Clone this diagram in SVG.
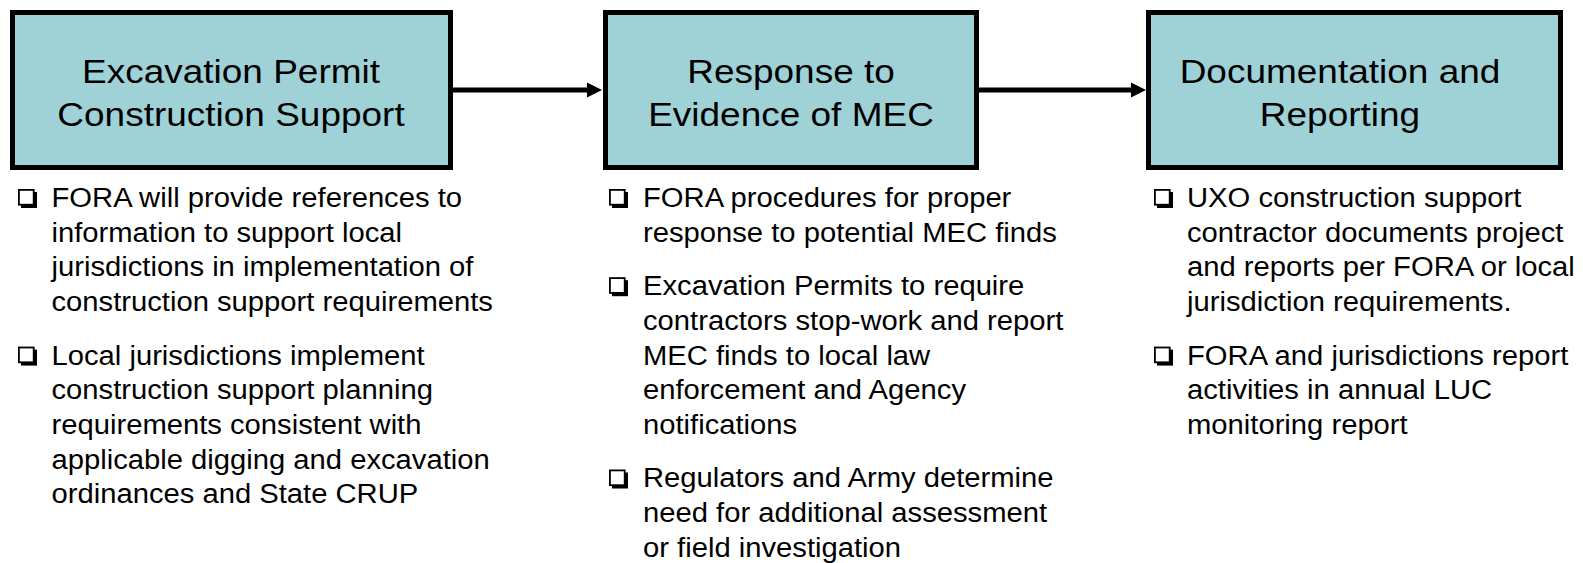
<svg xmlns="http://www.w3.org/2000/svg" xmlns:xlink="http://www.w3.org/1999/xlink" width="1583" height="563" viewBox="0 0 1583 563">
<style>
.box{fill:#9FD2D7;stroke:#000;stroke-width:5}
.title{font-family:"Liberation Sans",Arial,sans-serif;font-size:34px;fill:#000;text-anchor:middle}
.bul{font-family:"Liberation Sans",Arial,sans-serif;font-size:26.8px;fill:#000}
.conn{stroke:#000;stroke-width:5;fill:none}
</style>
<defs>
<marker id="ah" markerUnits="userSpaceOnUse" markerWidth="16" markerHeight="16" refX="0" refY="7.5" orient="auto" overflow="visible">
<path d="M0,0 L15,7.5 L0,15 z" fill="#000"/>
</marker>
<g id="cb">
<rect x="3" y="3" width="16" height="16" fill="#000"/>
<rect x="0.9" y="0.9" width="14.8" height="14.8" fill="#fff" stroke="#000" stroke-width="1.8"/>
</g>
</defs>
<rect width="1583" height="563" fill="#fff"/>

<g id="connectors">
<line class="conn" x1="452" y1="90" x2="587" y2="90" marker-end="url(#ah)"/>
<line class="conn" x1="979" y1="90" x2="1131" y2="90" marker-end="url(#ah)"/>
</g>

<g id="node-excavation">
<rect class="box" x="12.5" y="12.5" width="438" height="155"/>
<text class="title" transform="translate(231 0) scale(1.088 1)"><tspan x="0" y="83">Excavation Permit</tspan><tspan x="0" y="126">Construction Support</tspan></text>
</g>

<g id="node-response">
<rect class="box" x="605.5" y="12.5" width="371" height="155"/>
<text class="title" transform="translate(791 0) scale(1.088 1)"><tspan x="0" y="83">Response to</tspan><tspan x="0" y="126">Evidence of MEC</tspan></text>
</g>

<g id="node-documentation">
<rect class="box" x="1148.5" y="12.5" width="412" height="155"/>
<text class="title" transform="translate(1340 0) scale(1.088 1)"><tspan x="0" y="83">Documentation and</tspan><tspan x="0" y="126">Reporting</tspan></text>
</g>

<g id="bullets-excavation">
<use xlink:href="#cb" x="18" y="189"/>
<use xlink:href="#cb" x="18" y="346.6"/>
<text class="bul" transform="translate(51.5 0) scale(1.09 1)">
<tspan x="0" y="207">FORA will provide references to</tspan>
<tspan x="0" y="241.7">information to support local</tspan>
<tspan x="0" y="276.4">jurisdictions in implementation of</tspan>
<tspan x="0" y="311.1">construction support requirements</tspan>
<tspan x="0" y="364.6">Local jurisdictions implement</tspan>
<tspan x="0" y="399.3">construction support planning</tspan>
<tspan x="0" y="434">requirements consistent with</tspan>
<tspan x="0" y="468.7">applicable digging and excavation</tspan>
<tspan x="0" y="503.4">ordinances and State CRUP</tspan>
</text>
</g>

<g id="bullets-response">
<use xlink:href="#cb" x="609" y="189"/>
<use xlink:href="#cb" x="609" y="277.2"/>
<use xlink:href="#cb" x="609" y="469.5"/>
<text class="bul" transform="translate(643 0) scale(1.09 1)">
<tspan x="0" y="207">FORA procedures for proper</tspan>
<tspan x="0" y="241.7">response to potential MEC finds</tspan>
<tspan x="0" y="295.2">Excavation Permits to require</tspan>
<tspan x="0" y="329.9">contractors stop-work and report</tspan>
<tspan x="0" y="364.6">MEC finds to local law</tspan>
<tspan x="0" y="399.3">enforcement and Agency</tspan>
<tspan x="0" y="434">notifications</tspan>
<tspan x="0" y="487.5">Regulators and Army determine</tspan>
<tspan x="0" y="522.2">need for additional assessment</tspan>
<tspan x="0" y="556.9">or field investigation</tspan>
</text>
</g>

<g id="bullets-documentation">
<use xlink:href="#cb" x="1154" y="189"/>
<use xlink:href="#cb" x="1154" y="346.6"/>
<text class="bul" transform="translate(1187 0) scale(1.09 1)">
<tspan x="0" y="207">UXO construction support</tspan>
<tspan x="0" y="241.7">contractor documents project</tspan>
<tspan x="0" y="276.4">and reports per FORA or local</tspan>
<tspan x="0" y="311.1">jurisdiction requirements.</tspan>
<tspan x="0" y="364.6">FORA and jurisdictions report</tspan>
<tspan x="0" y="399.3">activities in annual LUC</tspan>
<tspan x="0" y="434">monitoring report</tspan>
</text>
</g>
</svg>
